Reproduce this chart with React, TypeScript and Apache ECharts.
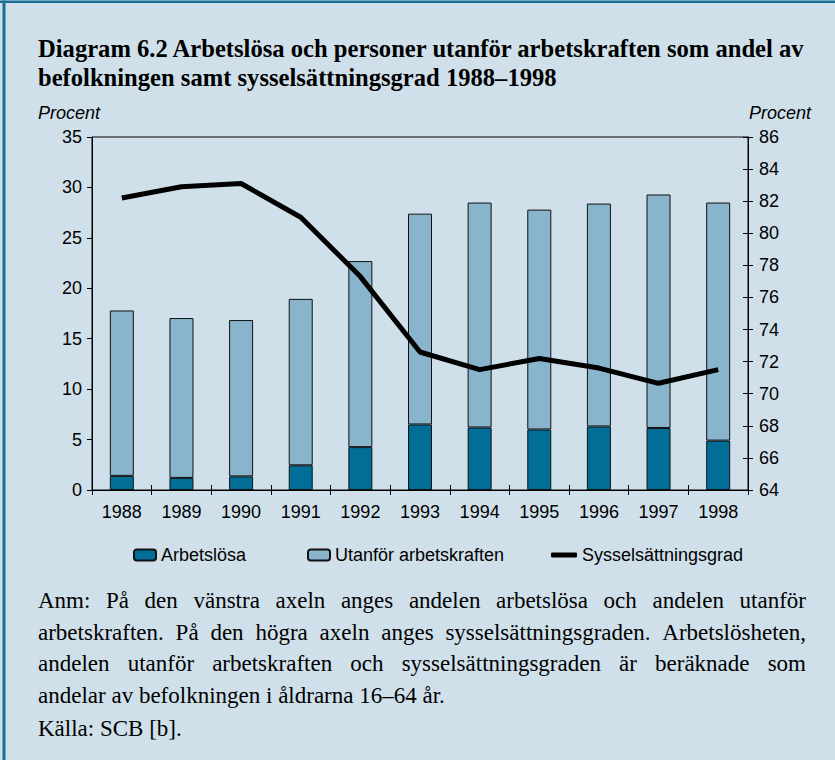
import React, { useEffect, useRef } from "react";
import * as echarts from "echarts";

const years = ["1988", "1989", "1990", "1991", "1992", "1993", "1994", "1995", "1996", "1997", "1998"];
const arbetslosa = [1.4, 1.2, 1.35, 2.45, 4.25, 6.5, 6.2, 6.0, 6.3, 6.15, 4.9];
const utanfor = [16.4, 15.85, 15.5, 16.5, 18.45, 20.9, 22.3, 21.8, 22.1, 23.15, 23.6];
const syss = [82.2, 82.9, 83.1, 81.0, 77.3, 72.6, 71.5, 72.2, 71.6, 70.65, 71.5];

const titleLines = [
  "Diagram 6.2 Arbetslösa och personer utanför arbetskraften som andel av",
  "befolkningen samt sysselsättningsgrad 1988–1998",
];
const noteLines = [
  "Anm: På den vänstra axeln anges andelen arbetslösa och andelen utanför",
  "arbetskraften. På den högra axeln anges sysselsättningsgraden. Arbetslösheten,",
  "andelen utanför arbetskraften och sysselsättningsgraden är beräknade som",
  "andelar av befolkningen i åldrarna 16–64 år.",
];
const sourceLine = "Källa: SCB [b].";

const SANS = "'Liberation Sans', Arial, sans-serif";
const SERIF = "'Liberation Serif', 'Times New Roman', serif";
const BG = "#d0e0ea";
const DARK = "#006e96";
const LIGHT = "#88b4cc";
const FRAME = "#1b6f97";

function makeMeasurer(font: string) {
  const span = document.createElement("span");
  span.style.font = font;
  span.style.position = "absolute";
  span.style.left = "-9999px";
  span.style.top = "0";
  span.style.visibility = "hidden";
  span.style.whiteSpace = "pre";
  document.body.appendChild(span);
  const measure = (t: string) => {
    span.textContent = t;
    return span.getBoundingClientRect().width;
  };
  const done = () => {
    if (span.parentNode) span.parentNode.removeChild(span);
  };
  return { measure, done };
}

export default function App() {
  const ref = useRef<HTMLDivElement>(null);
  useEffect(() => {
    const chart = echarts.init(ref.current!, null, { renderer: "svg" });

    const noteFont = `23px ${SERIF}`;
    const m = makeMeasurer(noteFont);
    const left = 38;
    const right = 806;
    const noteY = [600, 632, 663, 695];
    const graphics: any[] = [];

    graphics.push({ type: "rect", shape: { x: 0, y: 0.5, width: 835, height: 2.5 }, style: { fill: FRAME }, silent: true });
    graphics.push({ type: "rect", shape: { x: 2.5, y: 0.5, width: 3, height: 760 }, style: { fill: FRAME }, silent: true });

    titleLines.forEach((t, i) => {
      graphics.push({
        type: "text",
        x: left,
        y: [48, 77][i],
        style: { text: t, font: `bold 24.6px ${SERIF}`, fill: "#000", align: "left", verticalAlign: "middle" },
      });
    });

    graphics.push({ type: "text", x: left, y: 113, style: { text: "Procent", font: `italic 18px ${SANS}`, fill: "#000", align: "left", verticalAlign: "middle" } });
    graphics.push({ type: "text", x: 811, y: 113, style: { text: "Procent", font: `italic 18px ${SANS}`, fill: "#000", align: "right", verticalAlign: "middle" } });

    noteLines.forEach((line, i) => {
      const justify = i < noteLines.length - 1;
      if (!justify) {
        graphics.push({ type: "text", x: left, y: noteY[i], style: { text: line, font: noteFont, fill: "#000", align: "left", verticalAlign: "middle" } });
        return;
      }
      const words = line.split(" ");
      const widths = words.map((w) => m.measure(w));
      const total = widths.reduce((a, b) => a + b, 0);
      const gap = Math.max(3, (right - left - total) / (words.length - 1));
      let x = left;
      words.forEach((w, k) => {
        graphics.push({ type: "text", x, y: noteY[i], style: { text: w, font: noteFont, fill: "#000", align: "left", verticalAlign: "middle" } });
        x += widths[k] + gap;
      });
    });
    m.done();

    graphics.push({ type: "text", x: left, y: 728, style: { text: sourceLine, font: noteFont, fill: "#000", align: "left", verticalAlign: "middle" } });

    const axisTextStyle = { fontSize: 18, fontFamily: SANS, color: "#000" };
    const blackLine = { lineStyle: { color: "#000", width: 1 } };

    const option: any = {
      animation: false,
      backgroundColor: BG,
      grid: { left: 92, right: 87, top: 137, bottom: 270, show: true, borderColor: "#000", borderWidth: 1, backgroundColor: "transparent" },
      legend: [
        { data: [{ name: "Arbetslösa" }], left: 133, top: 546, padding: 0, itemWidth: 22, itemHeight: 11, selectedMode: false, textStyle: axisTextStyle },
        { data: [{ name: "Utanför arbetskraften" }], left: 307, top: 546, padding: 0, itemWidth: 22, itemHeight: 11, selectedMode: false, textStyle: axisTextStyle },
        {
          data: [{ name: "Sysselsättningsgrad", icon: "roundRect", itemStyle: { color: "#000", borderWidth: 0 } }],
          left: 551, top: 546, padding: 0, itemWidth: 26, itemHeight: 5, selectedMode: false, textStyle: axisTextStyle,
        },
      ],
      xAxis: [
        {
          type: "category", data: years, position: "bottom", boundaryGap: true,
          axisLine: { show: true, ...blackLine },
          axisTick: { show: true, length: 5, alignWithLabel: false, ...blackLine },
          axisLabel: { ...axisTextStyle, margin: 13 },
          splitLine: { show: false },
        },
        {
          type: "category", data: years, position: "bottom", offset: 0, boundaryGap: true,
          axisLine: { show: false },
          axisTick: { show: true, inside: true, length: 5, ...blackLine },
          axisLabel: { show: false },
          splitLine: { show: false },
        },
      ],
      yAxis: [
        {
          type: "value", position: "left", min: 0, max: 35, interval: 5,
          axisLine: { show: true, ...blackLine },
          axisTick: { show: true, length: 5, ...blackLine },
          axisLabel: { ...axisTextStyle, margin: 10 },
          splitLine: { show: false },
        },
        {
          type: "value", position: "right", min: 64, max: 86, interval: 2,
          axisLine: { show: true, ...blackLine },
          axisTick: { show: true, length: 5, ...blackLine },
          axisLabel: { ...axisTextStyle, margin: 11 },
          splitLine: { show: false },
        },
        {
          type: "value", position: "right", offset: 0, min: 64, max: 86, interval: 2,
          axisLine: { show: false },
          axisTick: { show: true, inside: true, length: 5, ...blackLine },
          axisLabel: { show: false },
          splitLine: { show: false },
        },
      ],
      series: [
        { name: "Arbetslösa", type: "bar", stack: "a", barWidth: 24, data: arbetslosa, itemStyle: { color: DARK, borderColor: "#111", borderWidth: 1 } },
        { name: "Utanför arbetskraften", type: "bar", stack: "a", barWidth: 24, data: utanfor, itemStyle: { color: LIGHT, borderColor: "#111", borderWidth: 1 } },
        {
          name: "Sysselsättningsgrad", type: "line", yAxisIndex: 1, data: syss, symbol: "none",
          lineStyle: { color: "#000", width: 5, join: "round" }, itemStyle: { color: "#000" }, z: 5,
        },
      ],
      graphic: { elements: graphics },
    };

    chart.setOption(option);
    return () => chart.dispose();
  }, []);
  return <div ref={ref} style={{ position: "absolute", left: 0, top: 0, width: 835, height: 760 }} />;
}
